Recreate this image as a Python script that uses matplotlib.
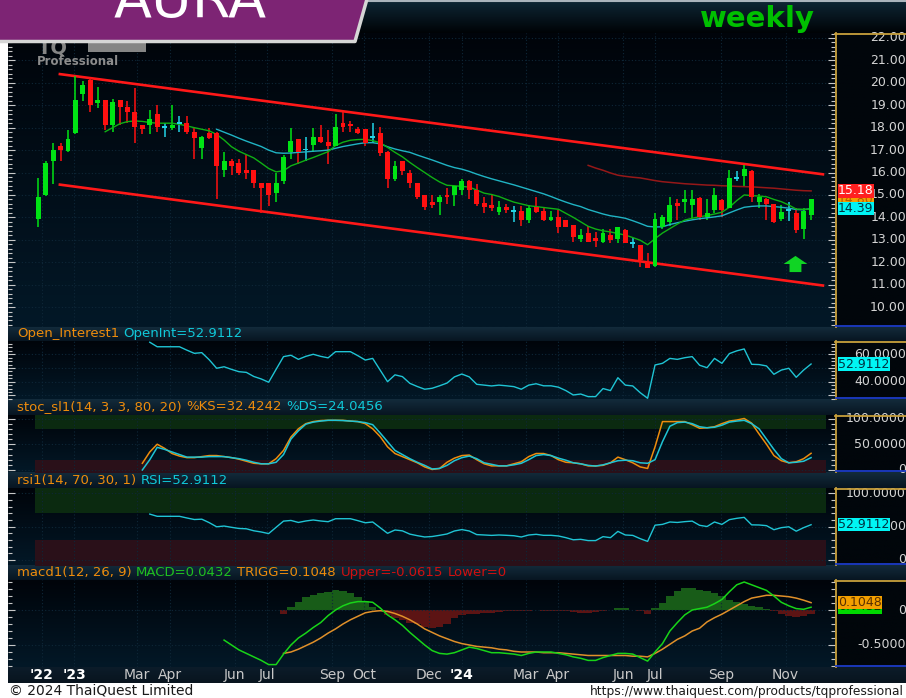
import numpy as np
import pandas as pd
import matplotlib
matplotlib.use('Agg')
import matplotlib.pyplot as plt
from matplotlib.colors import LinearSegmentedColormap
from matplotlib.patches import Polygon, Rectangle
from matplotlib.lines import Line2D
from matplotlib.ticker import MultipleLocator
from matplotlib.transforms import blended_transform_factory

# ---- data (weekly AURA, first bar = week of 2022-11-28) ----
start = pd.Timestamp('2022-11-28')

opens = [13.91, 15.0, 16.53, 17.2, 16.97, 17.76, 19.5, 20.13, 19.1, 19.23,
         18.12, 19.23, 18.94, 18.71, 18.12, 18.12, 18.6, 18.04, 17.98, 18.2,
         18.2, 17.82, 17.08, 17.76, 17.76, 16.11, 16.53, 16.41, 16.11, 16.11,
         15.52, 15.52, 15.07, 15.6, 16.9, 17.48, 17.03, 17.23, 17.6, 17.37,
         17.2, 18.2, 18.16, 17.93, 17.93, 17.6, 17.75, 16.93, 15.7, 16.51,
         16.0, 15.52, 15.0, 14.7, 14.7, 15.0, 15.0, 15.22, 15.62, 15.22,
         14.66, 14.55, 14.25, 14.48, 14.3, 14.3, 13.88, 14.45, 14.3, 13.88,
         14.03, 13.88, 13.66, 13.02, 13.29, 13.07, 12.91, 13.21, 13.02, 13.44,
         12.84, 12.77, 12.02, 11.83, 13.58, 13.81, 14.66, 14.7, 14.55, 14.85,
         14.03, 14.33, 14.77, 14.4, 15.77, 15.84, 16.08, 14.7, 14.81, 14.6,
         13.91, 14.33, 14.21, 13.48, 14.1]
highs = [15.76, 16.5, 17.3, 17.3, 17.9, 20.3, 20.1, 20.2, 19.8, 19.25,
         19.3, 19.25, 19.2, 19.76, 18.13, 18.8, 19.0, 18.2, 19.0, 18.5,
         18.5, 18.0, 17.65, 18.0, 17.8, 16.9, 16.6, 16.6, 16.8, 16.12,
         15.53, 15.53, 16.0, 16.8, 18.0, 17.5, 17.6, 18.0, 18.1, 17.9,
         18.6, 18.7, 18.3, 18.05, 17.95, 18.2, 18.05, 16.95, 16.5, 16.52,
         16.1, 15.53, 15.01, 15.0, 15.0, 15.3, 15.4, 15.7, 15.65, 15.5,
         14.9, 15.0, 14.75, 14.6, 14.5, 14.5, 14.55, 14.9, 14.4, 14.3,
         14.35, 13.9, 13.67, 13.5, 13.6, 13.35, 13.5, 13.5, 13.55, 13.5,
         13.1, 12.78, 12.4, 14.2, 14.1, 14.9, 14.8, 15.2, 15.2, 14.9,
         14.8, 15.3, 14.8, 16.1, 16.05, 16.35, 16.1, 15.05, 14.85, 14.6,
         14.55, 14.7, 14.4, 14.4, 14.8]
lows = [13.57, 14.95, 15.5, 16.53, 16.9, 17.7, 19.2, 18.7, 18.9, 17.9,
        17.8, 18.1, 18.2, 17.3, 17.7, 17.7, 17.8, 17.6, 17.9, 17.8,
        17.7, 16.6, 16.6, 17.5, 14.8, 15.8, 15.9, 15.9, 15.7, 15.3,
        14.2, 14.5, 14.7, 15.5, 16.6, 16.4, 16.5, 16.9, 17.3, 16.4,
        17.2, 17.8, 17.8, 17.7, 17.2, 17.3, 16.75, 15.3, 15.6, 15.9,
        15.3, 14.8, 14.35, 14.4, 14.1, 14.6, 14.5, 15.0, 14.8, 14.5,
        14.2, 14.3, 14.1, 14.2, 13.8, 13.6, 13.75, 14.2, 13.85, 13.85,
        13.3, 13.55, 12.9, 12.9, 12.9, 12.7, 12.85, 12.85, 12.85, 12.85,
        12.65, 11.8, 11.73, 11.8, 13.5, 13.6, 13.9, 14.2, 13.95, 13.9,
        13.9, 14.2, 14.0, 14.4, 15.6, 15.4, 14.7, 14.4, 13.9, 13.75,
        13.85, 13.85, 13.3, 13.05, 13.9]
closes = [14.92, 16.42, 17.0, 17.0, 17.5, 19.23, 19.9, 19.0, 19.23, 18.12,
          19.15, 18.94, 18.71, 18.04, 17.94, 18.39, 18.04, 18.04, 18.12, 18.2,
          17.82, 17.53, 17.6, 17.54, 16.3, 16.53, 16.3, 15.97, 15.97, 15.52,
          15.3, 15.0, 15.52, 16.7, 17.4, 16.9, 17.03, 17.6, 17.37, 17.2,
          18.02, 18.04, 18.07, 17.75, 17.33, 17.6, 16.86, 15.71, 16.29, 16.08,
          15.52, 14.9, 14.48, 14.55, 14.9, 14.92, 15.4, 15.64, 15.22, 14.6,
          14.48, 14.4, 14.48, 14.33, 14.3, 13.88, 14.4, 14.25, 13.88, 14.03,
          13.58, 13.58, 13.11, 13.21, 12.91, 12.96, 13.29, 12.99, 13.56, 12.87,
          12.84, 12.1, 11.73, 13.91, 14.0, 14.55, 14.51, 14.81, 14.81, 14.03,
          14.18, 15.0, 14.33, 15.74, 15.77, 16.14, 14.92, 14.92, 14.6, 13.81,
          14.25, 14.33, 13.44, 14.3, 14.8]

ma_fast_start = 9
ma_fast = [17.82, 18.0, 18.18, 18.27, 18.3, 18.28, 18.23, 18.2, 18.2, 18.2,
           18.15, 18.08, 18.0, 17.93, 17.86, 17.7, 17.45, 17.15, 16.95, 16.8,
           16.65, 16.42, 16.18, 16.03, 16.08, 16.3, 16.42, 16.55, 16.67, 16.8,
           16.93, 17.2, 17.35, 17.44, 17.47, 17.48, 17.42, 17.33, 17.12, 16.9,
           16.7, 16.45, 16.22, 16.0, 15.78, 15.58, 15.43, 15.41, 15.38, 15.35,
           15.22, 15.08, 15.02, 14.93, 14.8, 14.68, 14.6, 14.52, 14.48, 14.44,
           14.4, 14.36, 14.18, 14.0, 13.8, 13.6, 13.48, 13.4, 13.35, 13.28,
           13.21, 13.1, 12.98, 12.78, 13.05, 13.3, 13.5, 13.7, 13.88, 13.96,
           14.03, 14.08, 14.15, 14.23, 14.45, 14.75, 15.0, 14.97, 14.95, 14.92,
           14.8, 14.7, 14.55, 14.37, 14.36, 14.37]
ma_mid_start = 24
ma_mid = [17.93, 17.8, 17.67, 17.53, 17.4, 17.28, 17.16, 17.0, 16.88, 16.86,
          16.87, 16.9, 16.92, 16.95, 16.97, 17.0, 17.08, 17.16, 17.22, 17.28,
          17.33, 17.33, 17.28, 17.15, 17.05, 16.97, 16.9, 16.78, 16.67, 16.56,
          16.44, 16.32, 16.22, 16.15, 16.05, 15.93, 15.82, 15.72, 15.63, 15.54,
          15.45, 15.35, 15.25, 15.15, 15.05, 14.93, 14.8, 14.68, 14.57, 14.48,
          14.35, 14.25, 14.15, 14.07, 14.02, 13.96, 13.85, 13.73, 13.6, 13.57,
          13.58, 13.68, 13.76, 13.83, 13.89, 13.94, 13.98, 14.02, 14.07, 14.2,
          14.33, 14.45, 14.49, 14.51, 14.51, 14.48, 14.45, 14.41, 14.35, 14.34,
          14.39]
ma_slow_start = 74
ma_slow = [16.32, 16.2, 16.1, 15.98, 15.88, 15.83, 15.79, 15.76, 15.7, 15.64,
           15.59, 15.56, 15.53, 15.5, 15.48, 15.46, 15.44, 15.43, 15.41, 15.4,
           15.38, 15.37, 15.36, 15.34, 15.32, 15.3, 15.27, 15.24, 15.21, 15.19,
           15.18]

# trend channel drawn on the chart (bar index, price)
channel_x = [2.9, 105.6]
channel_top = [20.39, 15.92]
channel_bottom = [15.46, 10.96]

rsi_start = 15
rsi = [68.8, 65.5, 65.5, 65.5, 65.5, 63, 60.7, 61.2, 56, 49.8,
       50.9, 49, 47.3, 46.8, 43.8, 42, 39.6, 49, 58.3, 59.3,
       56.3, 58.5, 60, 58.5, 57.4, 61.9, 61.9, 61.9, 59, 55.8,
       57, 48.5, 40, 45, 43.7, 38.8, 36.5, 34.5, 35.2, 37,
       39, 43.5, 45.6, 43.5, 38.1, 37.5, 36.9, 37.5, 37, 36.4,
       34.5, 37.5, 38.5, 37, 37, 36, 33.5, 30.3, 31, 29.1,
       29.1, 35, 33.5, 42.9, 37.5, 36.9, 32, 27.9, 52.2, 53.4,
       57, 56.3, 57.5, 58.3, 52, 50.2, 57, 53.4, 60.5, 62.5,
       63.9, 52.7, 52.5, 51.5, 45.4, 48.5, 49.8, 43.2, 48.5, 52.91]

stoch_start = 14
stoch_k = [13, 35, 50, 42, 32, 27, 24, 24, 26, 28,
           28, 26, 24, 21, 17, 13, 12, 12, 22, 38,
           64, 80, 90, 94, 96, 96.5, 96.5, 96.5, 95, 94,
           90, 80, 65, 45, 32, 26, 20, 14, 6, 1,
           3, 15, 23, 28, 29, 20, 12, 8, 8, 8,
           12, 16, 26, 32, 32, 28, 20, 15, 14, 12,
           8, 8, 9, 14, 25, 20, 14, 6, 3, 45,
           94, 94, 94, 94, 88, 81, 82, 84, 90, 95,
           97, 100, 91, 70, 50, 28, 18, 14, 16, 22, 32.4]
stoch_d = [0, 20, 44, 40, 35, 30, 25, 25, 25, 26,
           26, 26, 24, 22, 19, 15, 12, 12, 15, 30,
           60, 76, 89, 93, 95, 96.5, 96.5, 96, 95, 94,
           92, 88, 72, 55, 38, 30, 22, 15, 9, 2,
           3, 9, 18, 24, 27, 22, 14, 11, 8, 8,
           10, 13, 20, 28, 30, 28, 23, 19, 14, 12,
           9, 7.6, 10, 14, 18, 19, 18, 14, 13, 20,
           55, 85, 92, 93, 90, 84, 82, 83, 87, 93,
           95, 96.5, 90, 80, 60, 40, 22, 14, 15, 17, 24]

macd_start = 25
macd = [-0.43, -0.50, -0.57, -0.62, -0.67, -0.72, -0.78, -0.78, -0.63, -0.50,
        -0.40, -0.33, -0.25, -0.18, -0.08, 0.00, 0.06, 0.10, 0.12, 0.12,
        0.11, 0.03, -0.07, -0.14, -0.22, -0.32, -0.41, -0.50, -0.58, -0.62,
        -0.63, -0.61, -0.57, -0.53, -0.55, -0.58, -0.61, -0.61, -0.62, -0.63,
        -0.65, -0.62, -0.60, -0.60, -0.60, -0.62, -0.64, -0.67, -0.69, -0.72,
        -0.72, -0.68, -0.65, -0.62, -0.62, -0.63, -0.68, -0.73, -0.60, -0.48,
        -0.30, -0.18, -0.07, 0.00, 0.02, 0.04, 0.09, 0.15, 0.26, 0.36,
        0.40, 0.36, 0.32, 0.28, 0.20, 0.11, 0.06, 0.02, 0.01, 0.04]
trigg_start = 33
trigg = [-0.62, -0.60, -0.56, -0.51, -0.46, -0.40, -0.33, -0.27, -0.20, -0.14,
         -0.09, -0.04, -0.02, -0.01, -0.02, -0.05, -0.09, -0.14, -0.20, -0.27,
         -0.32, -0.37, -0.41, -0.45, -0.48, -0.50, -0.52, -0.53, -0.54, -0.56,
         -0.57, -0.59, -0.60, -0.60, -0.60, -0.61, -0.61, -0.61, -0.62, -0.63,
         -0.64, -0.65, -0.65, -0.65, -0.65, -0.65, -0.65, -0.66, -0.66, -0.67,
         -0.62, -0.56, -0.49, -0.42, -0.37, -0.30, -0.26, -0.17, -0.11, -0.06,
         0.00, 0.06, 0.12, 0.17, 0.19, 0.21, 0.21, 0.20, 0.19, 0.17, 0.14, 0.105]
hist_start = 33
hist = [-0.05, 0.05, 0.12, 0.19, 0.21, 0.25, 0.26, 0.28, 0.27, 0.24,
        0.19, 0.13, 0.05, -0.02, -0.07, -0.11, -0.14, -0.18, -0.20, -0.24,
        -0.26, -0.24, -0.20, -0.12, -0.07, -0.05, -0.05, -0.04, -0.04, -0.03,
        -0.02, -0.02, -0.02, -0.01, 0.0, -0.01, -0.01, -0.02, -0.02, -0.03,
        -0.04, -0.04, -0.03, -0.02, 0.0, 0.03, 0.03, 0.0, -0.02, -0.05,
        0.03, 0.10, 0.20, 0.27, 0.31, 0.31, 0.29, 0.27, 0.24, 0.20,
        0.15, 0.12, 0.09, 0.06, 0.04, 0.02, -0.02, -0.05, -0.08, -0.10, -0.08, -0.06]

tick_dates = ['2022-12-01', '2023-01-01', '2023-03-01', '2023-04-01', '2023-06-01',
              '2023-07-01', '2023-09-01', '2023-10-01', '2023-12-01', '2024-01-01',
              '2024-03-01', '2024-04-01', '2024-06-01', '2024-07-01', '2024-09-01',
              '2024-11-01']
tick_labels = ["'22", "'23", 'Mar', 'Apr', 'Jun', 'Jul', 'Sep', 'Oct', 'Dec', "'24",
               'Mar', 'Apr', 'Jun', 'Jul', 'Sep', 'Nov']

# ---- colours ----
GREEN = '#00e414'
RED = '#ff1010'
CYAN = '#22d4e6'
ORANGE = '#ee8c0c'
LINE_CYAN = '#1fc4d4'
GOLD = '#c8a03c'

W, H = 906, 698
XLIM = (-4.08, 107.22)
tick_pos = [(pd.Timestamp(d) - start).days / 7 for d in tick_dates]

fig = plt.figure(figsize=(W / 100, H / 100), dpi=100, facecolor='white')


def box(x0, y0, x1, y1):
    # pixel box measured from the top-left corner -> figure rect
    return [x0 / W, 1 - y1 / H, (x1 - x0) / W, (y1 - y0) / H]


def gradient(ax, top, bottom):
    cmap = LinearSegmentedColormap.from_list('bg', [bottom, top])
    ax.imshow(np.linspace(0, 1, 100).reshape(-1, 1), cmap=cmap, aspect='auto', origin='lower',
              extent=[0, 1, 0, 1], transform=ax.transAxes, zorder=-10)


def deco(x0, y0, x1, y1, top, bottom=None):
    a = fig.add_axes(box(x0, y0, x1, y1), zorder=-5)
    a.axis('off')
    gradient(a, top, bottom or top)
    a.set_xlim(0, 1)
    a.set_ylim(0, 1)


def pline(xs, ys, color, lw):
    fig.add_artist(Line2D([x / W for x in xs], [1 - y / H for y in ys], color=color, lw=lw, zorder=5))


# background blocks
deco(8, 33, 906, 683, '#02080e')
deco(0, 0, 906, 33, '#0e2736', '#000306')
for y0, y1 in [(327, 341), (399, 415), (472, 488), (565, 580)]:
    deco(8, y0, 906, y1, '#132b3b', '#071521')
deco(8, 667, 906, 683, '#0c1c2a', '#08141e')

rows = [(33, 327), (341, 399), (415, 472), (488, 565), (580, 667)]
for y0, y1 in rows:
    deco(835, y0, 906, y1, '#01060b')
    pline([835.5, 835.5], [y0, y1], GOLD, 1.3)
    pline([835, 906], [y0 + 0.5, y0 + 0.5], GOLD, 1.3)
    pline([836, 906], [y1 - 0.8, y1 - 0.8], '#1c3cc8', 1.3)


def panel(y0, y1, ylim, major, minor):
    ax = fig.add_axes(box(8, y0, 835, y1))
    ax.set_facecolor('none')
    gradient(ax, '#00040a', '#031827')
    for s in ax.spines.values():
        s.set_visible(False)
    ax.yaxis.set_major_locator(MultipleLocator(major))
    ax.yaxis.set_minor_locator(MultipleLocator(minor))
    ax.tick_params(axis='y', which='both', left=True, right=True, direction='in',
                   colors='#c8c8c8', labelleft=False, labelright=False, width=0.8)
    ax.tick_params(axis='y', which='major', length=5)
    ax.tick_params(axis='y', which='minor', length=3)
    ax.set_xticks(tick_pos)
    ax.tick_params(axis='x', length=0, labelbottom=False)
    ax.grid(True, color='#0e2738', ls=(0, (1, 2)), lw=0.8)
    ax.set_xlim(XLIM)
    ax.set_ylim(ylim)
    return ax


def rlabels(ax, vals, texts):
    tr = blended_transform_factory(fig.transFigure, ax.transData)
    for v, s in zip(vals, texts):
        ax.text(906 / W, v, s, transform=tr, ha='right', va='center', color='#d4d4d4',
                fontsize=9, clip_on=False)


def tag(ax, v, s, fc, tc):
    tr = blended_transform_factory(fig.transFigure, ax.transData)
    ax.text(838 / W, v, s, transform=tr, ha='left', va='center', color=tc, fontsize=9,
            clip_on=False, zorder=6, bbox=dict(boxstyle='square,pad=0.02', fc=fc, ec='none'))


def span(start_i, values):
    return np.arange(start_i, start_i + len(values))


# ---- price panel ----
ax = panel(33, 327, (9.11, 22.223), 1, 0.2)
idx = np.arange(len(closes))
o = np.array(opens)
c = np.array(closes)
cols = np.where(c > o, GREEN, np.where(c < o, RED, CYAN))
body = np.abs(c - o)
ax.plot(channel_x, channel_top, color='#ff1818', lw=1.9, zorder=2)
ax.plot(channel_x, channel_bottom, color='#ff1818', lw=1.9, zorder=2)
ax.vlines(idx, lows, highs, colors=cols, lw=1.1, zorder=3)
ax.bar(idx, np.where(body == 0, 0.08, body), bottom=np.minimum(o, c) - np.where(body == 0, 0.04, 0),
       width=0.66, color=cols, zorder=4)
ax.plot(span(ma_slow_start, ma_slow), ma_slow, color='#961818', lw=1.1, zorder=3)
ax.plot(span(ma_mid_start, ma_mid), ma_mid, color='#20b4c4', lw=1.0, zorder=3)
ax.plot(span(ma_fast_start, ma_fast), ma_fast, color='#10b014', lw=1.0, zorder=3)
ax.arrow(101.9, 11.56, 0, 0.72, width=1.6, head_width=3.2, head_length=0.36,
         length_includes_head=True, fc='#10d424', ec='none', zorder=5)
rlabels(ax, range(10, 23), ['%.2f' % v for v in range(10, 23)])
tag(ax, 14.80, '14.80', '#f4a000', '#b45a00')
tag(ax, 15.18, '15.18', '#ff2020', 'white')
tag(ax, 14.39, '14.39', '#00f4f4', '#003040')

# ---- open interest panel ----
ax = panel(341, 399, (27.37, 69.7), 10, 2.5)
ax.plot(span(rsi_start, rsi), rsi, color=LINE_CYAN, lw=1.0)
rlabels(ax, [60, 40], ['60.0000', '40.0000'])
tag(ax, 52.91, '52.9112', '#00f4f4', '#003040')

# ---- stochastic panel ----
ax = panel(415, 472, (-3.9, 106.8), 50, 10)
ax.fill_between([-0.5, 106], 80, 120, color='#0b2a10', lw=0, zorder=0.5)
ax.fill_between([-0.5, 106], -10, 20, color='#2a1019', lw=0, zorder=0.5)
ax.plot(span(stoch_start, stoch_k), stoch_k, color=ORANGE, lw=1.1)
ax.plot(span(stoch_start, stoch_d), stoch_d, color=LINE_CYAN, lw=1.1)
rlabels(ax, [100, 50, 0], ['100.0000', '50.0000', '0'])

# ---- rsi panel ----
ax = panel(488, 565, (-7.5, 107.95), 50, 10)
ax.fill_between([-0.5, 106], 70, 120, color='#0b2a10', lw=0, zorder=0.5)
ax.fill_between([-0.5, 106], -10, 30, color='#2a1019', lw=0, zorder=0.5)
ax.plot(span(rsi_start, rsi), rsi, color=LINE_CYAN, lw=1.0)
rlabels(ax, [100, 50, 0], ['100.0000', '50.0000', '0'])
tag(ax, 52.91, '52.9112', '#00f4f4', '#003040')

# ---- macd panel ----
ax = panel(580, 667, (-0.8143, 0.4286), 0.5, 0.1)
hv = np.array(hist)
ax.bar(span(hist_start, hist), hv, width=1.0, color=np.where(hv >= 0, '#185c18', '#5c1414'), zorder=1)
ax.plot(span(trigg_start, trigg), trigg, color='#e0902a', lw=1.1, zorder=3)
ax.plot(span(macd_start, macd), macd, color='#18d418', lw=1.1, zorder=3)
rlabels(ax, [0, -0.5], ['0', '-0.5000'])
tag(ax, 0.0432, '0.0432', '#00d800', '#004000')
tag(ax, 0.1048, '0.1048', '#f4a000', '#5a3000')
ax.set_xticks(tick_pos, tick_labels)
ax.tick_params(axis='x', labelbottom=True, colors='#c8c8c8', labelsize=10, pad=1)
for lab in ax.get_xticklabels():
    if lab.get_text().startswith("'"):
        lab.set_fontweight('bold')
        lab.set_color('white')

# ---- overlay: banner, headers, footer ----
ov = fig.add_axes([0, 0, 1, 1], zorder=10)
ov.set_facecolor('none')
ov.axis('off')
ov.set_xlim(0, W)
ov.set_ylim(H, 0)

ov.text(38, 53, 'TQ', color='#858585', fontsize=14, fontweight='bold', va='baseline', zorder=1)
ov.add_patch(Rectangle((88, 42), 58, 10, fc='#858585', ec='none', zorder=1))
ov.text(37, 65, 'Professional', color='#8c8c8c', fontsize=8.5, fontweight='bold', va='baseline', zorder=1)

ov.plot([360, 906], [1, 1], color='#aab4bc', lw=1.5, zorder=2)
ov.add_patch(Polygon([(0, -1), (367, -1), (355, 40), (0, 40)], closed=True, fc='#7d2474', ec='none', zorder=3))
ov.plot([0, 355, 367], [41.5, 41.5, -1], color='#d6d6d6', lw=2.5, zorder=4)
ov.text(190, 17, 'AURA', color='white', fontsize=40, ha='center', va='baseline', zorder=5)
ov.text(757, 27, 'weekly', color='#00c000', fontsize=21, fontweight='bold', ha='center', va='baseline')

headers = [
    (334, [('Open_Interest1', ORANGE), ('OpenInt=52.9112', '#10c8d8')]),
    (407, [('stoc_sl1(14, 3, 3, 80, 20)', ORANGE), ('%KS=32.4242', ORANGE), ('%DS=24.0456', '#10c8d8')]),
    (480.5, [('rsi1(14, 70, 30, 1)', ORANGE), ('RSI=52.9112', '#10c8d8')]),
    (572.5, [('macd1(12, 26, 9)', ORANGE), ('MACD=0.0432', '#20c020'), ('TRIGG=0.1048', ORANGE),
             ('Upper=-0.0615', '#d01010'), ('Lower=0', '#d01010')]),
]
for y, parts in headers:
    t = ov.text(17, y, parts[0][0], color=parts[0][1], fontsize=9.5, va='center')
    for s, col in parts[1:]:
        t = ov.annotate(s, xy=(1, 0), xycoords=t, xytext=(3.2, 0), textcoords='offset points',
                        va='bottom', ha='left', color=col, fontsize=9.5)

ov.text(9, 691, '\u00a9 2024 ThaiQuest Limited', color='#1a1a1a', fontsize=10, va='center')
ov.text(904, 691, 'https://www.thaiquest.com/products/tqprofessional', color='#1a1a1a',
        fontsize=8.8, va='center', ha='right')

fig.savefig('out.png', dpi=100, facecolor='white')
